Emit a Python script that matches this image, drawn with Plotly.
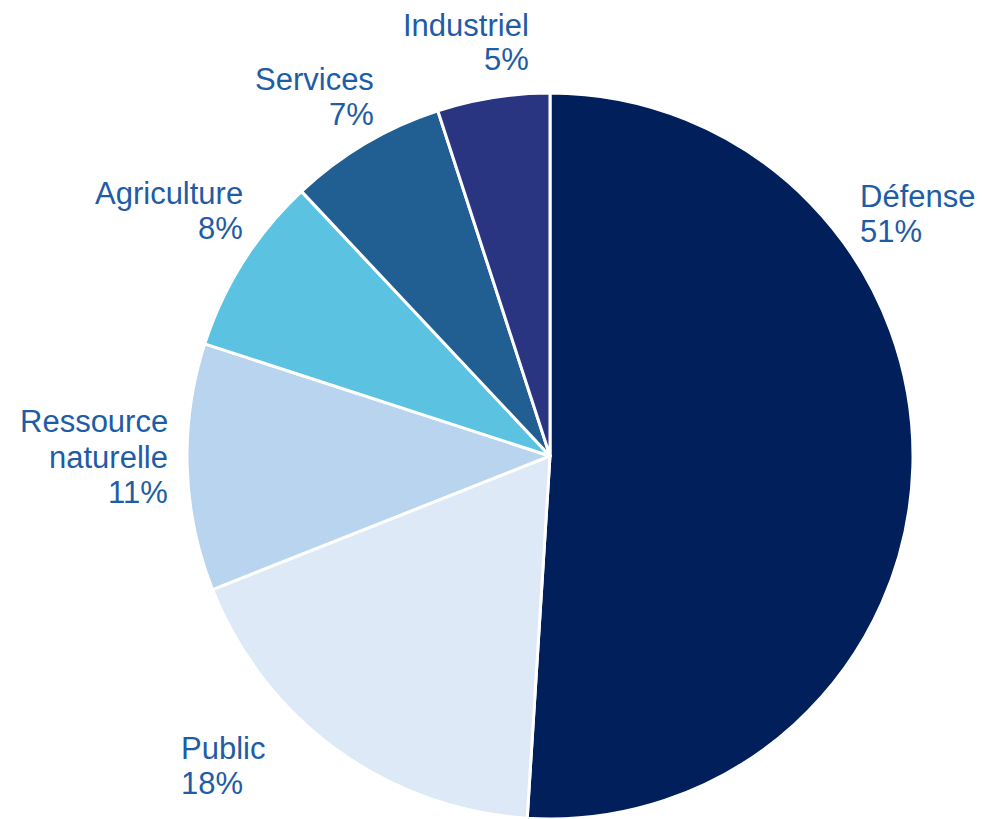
import plotly.graph_objects as go

categories = ["Défense", "Public", "Ressource naturelle", "Agriculture", "Services", "Industriel"]
values = [51, 18, 11, 8, 7, 5]
colors = ["#001F5B", "#DDE9F6", "#B9D4EE", "#5BC3E1", "#215E92", "#2A3582"]

# label layout: how each category name wraps, and where its text block sits (screen px)
label_lines = [["Défense"], ["Public"], ["Ressource", "naturelle"], ["Agriculture"], ["Services"], ["Industriel"]]
label_px = [(859, 196), (180, 748), (169, 422), (244, 193), (375, 80), (530, 25)]  # first-line centre
label_anchor = ["left", "left", "right", "right", "right", "right"]
LINE_STEP = 35
PAGE_OFFSET = 8  # default body margin of the html page

W, H = 985 - PAGE_OFFSET, 819 - PAGE_OFFSET
text_color = "#1F5CA6"
cx, cy, R = 550 - PAGE_OFFSET, 457 - PAGE_OFFSET, 364

fig = go.Figure()
fig.add_trace(go.Pie(
    labels=categories,
    values=values,
    sort=False,
    direction="clockwise",
    rotation=0,
    marker=dict(colors=colors, line=dict(color="white", width=3)),
    textinfo="none",
    hoverinfo="label+percent",
    showlegend=False,
    domain=dict(x=[(cx - R) / W, (cx + R) / W],
                y=[max(0, (H - (cy + R)) / H), (H - (cy - R)) / H]),
))

total = sum(values)
for lines, val, (px, py), anc in zip(label_lines, values, label_px, label_anchor):
    pct = round(100 * val / total)
    all_lines = lines + [f"{pct}%"]
    for i, txt in enumerate(all_lines):
        y = py + i * LINE_STEP - PAGE_OFFSET
        fig.add_annotation(
            x=(px - PAGE_OFFSET) / W, y=1 - y / H, xref="paper", yref="paper",
            text=txt,
            showarrow=False,
            xanchor=anc, yanchor="middle", align=anc,
            borderpad=0,
            font=dict(family="Liberation Sans, Arial, sans-serif", size=31, color=text_color),
        )

fig.update_layout(
    width=W, height=H,
    margin=dict(l=0, r=0, t=0, b=0),
    paper_bgcolor="white",
    plot_bgcolor="white",
)

fig.write_html("out.html")
